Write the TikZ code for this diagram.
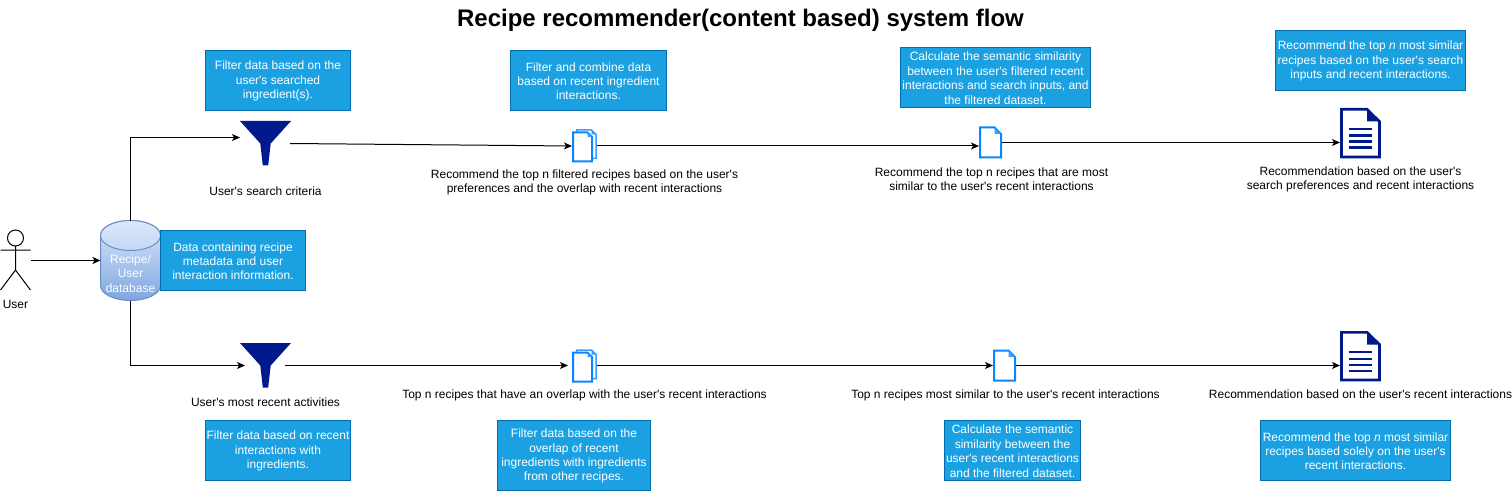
\documentclass[tikz,border=0pt]{standalone}
\usepackage{fontspec}
\newfontfamily\lib{Liberation Sans}
\usetikzlibrary{arrows.meta,calc}
\definecolor{notefill}{HTML}{1BA1E2}
\definecolor{notedraw}{HTML}{006EAF}
\definecolor{navyicon}{HTML}{001A8C}
\definecolor{blueicon}{HTML}{0A84FF}
\definecolor{lightblueicon}{HTML}{3D9DFF}
\definecolor{dbtop}{HTML}{DAE8FC}
\definecolor{dbmid}{HTML}{C4D7F5}
\definecolor{dbbot}{HTML}{7EA6E0}
\definecolor{dbline}{HTML}{6C8EBF}
\tikzset{
  base/.style={inner sep=0pt,outer sep=0pt,align=center,font=\lib\fontsize{12}{14.4}\selectfont},
  note/.style={base,draw=notedraw,fill=notefill,text=white,line width=1pt},
  lbl/.style={base,text=black},
  anchorbox/.style={inner sep=0pt,outer sep=0pt,minimum width=#1},
  link/.style={draw=black,line width=1pt,-{Stealth[length=8pt,width=7pt,inset=2pt]}},
  funnelicon/.pic={
    \fill[navyicon] (-25.5,-22.5) -- (25.5,-22.5) -- (5.2,0) -- (2.7,22) -- (-2.7,22) -- (-5.2,0) -- cycle;
  },
  docicon/.pic={
    \draw[blueicon,line width=2pt,fill=white,line join=miter] (-10.5,-15) -- (4,-15) -- (10.5,-8.5) -- (10.5,15) -- (-10.5,15) -- cycle;
    \fill[lightblueicon] (4,-15) -- (10.5,-8.5) -- (4,-8.5) -- cycle;
  },
  multidocicon/.pic={
    \draw[lightblueicon,line width=1.5pt,fill=white] (-8,-16) -- (7,-16) -- (11.5,-11.5) -- (11.5,12.5) -- (-8,12.5) -- cycle;
    \fill[lightblueicon] (7,-16) -- (11.5,-11.5) -- (7,-11.5) -- cycle;
    \draw[blueicon,line width=2pt,fill=white] (-11.5,-13.5) -- (3,-13.5) -- (7.5,-9) -- (7.5,15.5) -- (-11.5,15.5) -- cycle;
    \fill[lightblueicon] (3,-13.5) -- (7.5,-9) -- (3,-9) -- cycle;
  },
  reporticon/.pic={
    \draw[navyicon,line width=2.6pt,fill=white,line join=miter] (-19,-23.7) -- (6.5,-23.7) -- (19,-11.5) -- (19,24) -- (-19,24) -- cycle;
    \fill[navyicon] (6.5,-23.7) -- (19,-11.5) -- (6.5,-11.5) -- cycle;
    \foreach \yy in {-4,2.7,8.7,14.7}
      \fill[navyicon] (-11.5,\yy-1.2) rectangle (11.5,\yy+1.2);
  }
}
\begin{document}
\begin{tikzpicture}[x=1pt,y=-1pt]
\useasboundingbox (0,0) rectangle (1512,497);

% title
\node[base,font=\lib\bfseries\fontsize{24}{28}\selectfont] (title) at (740.5,20) {Recipe recommender(content based) system flow};

% actor
\node[anchorbox=30pt,minimum height=60pt] (user) at (15.5,260.5) {};
\draw[black,line width=1pt] (15.5,238) circle (8);
\draw[black,line width=1pt] (15.5,246) -- (15.5,270) (0.5,250) -- (30.5,250) (0.5,290) -- (15.5,270) -- (30.5,290);
\node[lbl] (userlbl) at (15.5,304.5) {User};

% database
\node[anchorbox=60pt,minimum height=80pt] (db) at (130.5,260.5) {};
\path[top color=dbtop,bottom color=dbbot,draw=dbline,line width=1pt]
  (100.5,235.5) -- (100.5,285.5) .. controls (100.5,293.8) and (114,300.5) .. (130.5,300.5) .. controls (147,300.5) and (160.5,293.8) .. (160.5,285.5) -- (160.5,235.5) .. controls (160.5,227.2) and (147,220.5) .. (130.5,220.5) .. controls (114,220.5) and (100.5,227.2) .. (100.5,235.5) -- cycle;
\path[draw=dbline,top color=dbtop,bottom color=dbmid,line width=1pt] (130.5,235.5) ellipse[x radius=30,y radius=15];
\node[base,text=white!92!dbtop] (dblbl) at (130.5,273.5) {Recipe/\\User\\database};

% notes
\node[note,minimum width=145pt,minimum height=60pt] (ndb) at (233,260.5) {\rule{0pt}{10pt}Data containing recipe\\metadata and user\\interaction information.};
\node[note,minimum width=145pt,minimum height=60pt] (n1) at (278,80.5) {\rule{0pt}{10pt}Filter data based on the\\user's searched\\ingredient(s).};
\node[note,minimum width=156pt,minimum height=60pt] (n2) at (588.5,80.5) {\rule{0pt}{10pt}Filter and combine data\\based on recent ingredient\\interactions.};
\node[note,minimum width=190pt,minimum height=60pt] (n3) at (995.5,77.5) {\rule{0pt}{10pt}Calculate the semantic similarity\\between the user's filtered recent\\interactions and search inputs, and\\the filtered dataset.};
\node[note,minimum width=190pt,minimum height=60pt] (n4) at (1370.5,60.5) {\rule{0pt}{10pt}Recommend the top \textit{n} most similar\\recipes based on the user's search\\inputs and recent interactions.};
\node[note,minimum width=145pt,minimum height=60pt] (n5) at (278,450.5) {\rule{0pt}{10pt}Filter data based on recent\\interactions with\\ingredients.};
\node[note,minimum width=153pt,minimum height=70pt] (n6) at (574,455.5) {\rule{0pt}{10pt}Filter data based on the\\overlap of recent\\ingredients with ingredients\\from other recipes.};
\node[note,minimum width=136pt,minimum height=60pt] (n7) at (1012.5,450.5) {\rule{0pt}{10pt}Calculate the semantic\\similarity between the\\user's recent interactions\\and the filtered dataset.};
\node[note,minimum width=190pt,minimum height=60pt] (n8) at (1355.5,450.5) {\rule{0pt}{10pt}Recommend the top \textit{n} most similar\\recipes based solely on the user's\\recent interactions.};

% icons
\node[anchorbox=50pt,minimum height=46pt] (f1) at (265,143.5) {};
\pic at (265.5,143.5) {funnelicon};
\node[anchorbox=25pt,minimum height=33pt] (d1) at (584.5,146) {};
\pic at (584.5,146) {multidocicon};
\node[anchorbox=23pt,minimum height=31pt] (d2) at (990.5,142.5) {};
\pic at (990.5,142.5) {docicon};
\node[anchorbox=41pt,minimum height=50pt] (d3) at (1360.5,133) {};
\pic at (1360.5,133) {reporticon};
\node[anchorbox=40pt,minimum height=46pt] (f2) at (265,365.5) {};
\pic at (265.5,365.5) {funnelicon};
\node[anchorbox=25pt,minimum height=33pt] (d4) at (584.5,365.5) {};
\pic at (584.5,366) {multidocicon};
\node[anchorbox=23pt,minimum height=31pt] (d5) at (1004.5,365.5) {};
\pic at (1004.5,365.5) {docicon};
\node[anchorbox=41pt,minimum height=50pt] (d6) at (1360.5,356) {};
\pic at (1360.5,356) {reporticon};

% icon labels
\node[lbl] (l1) at (265.5,191.5) {User's search criteria};
\node[lbl] (l2) at (584.5,182.5) {Recommend the top n filtered recipes based on the user's\\preferences and the overlap with recent interactions};
\node[lbl] (l3) at (991.5,179.5) {Recommend the top n recipes that are most\\similar to the user's recent interactions};
\node[lbl] (l4) at (1360.5,179.5) {Recommendation based on the user's\\search preferences and recent interactions};
\node[lbl] (l5) at (265.5,402.5) {User's most recent activities};
\node[lbl] (l6) at (584.5,395) {Top n recipes that have an overlap with the user's recent interactions};
\node[lbl] (l7) at (1005.5,395) {Top n recipes most similar to the user's recent interactions};
\node[lbl] (l8) at (1360.5,394) {Recommendation based on the user's recent interactions};

% connectors
\draw[link] (user.east) -- (db.west);
\draw[link] (db.north) |- (f1.west |- 0,137.5);
\draw[link] (db.south) |- (f2.west);
\draw[link] (f1.east) -- (d1.west);
\draw[link] (d1.east) -- (d2.west |- d1.east);
\draw[link] (d2.east) -- (d3.west |- d2.east);
\draw[link,shorten >=4pt] (f2.east) -- (d4.west);
\draw[link] (d4.east) -- (d5.west);
\draw[link] (d5.east) -- (d6.west |- d5.east);
\end{tikzpicture}
\end{document}
